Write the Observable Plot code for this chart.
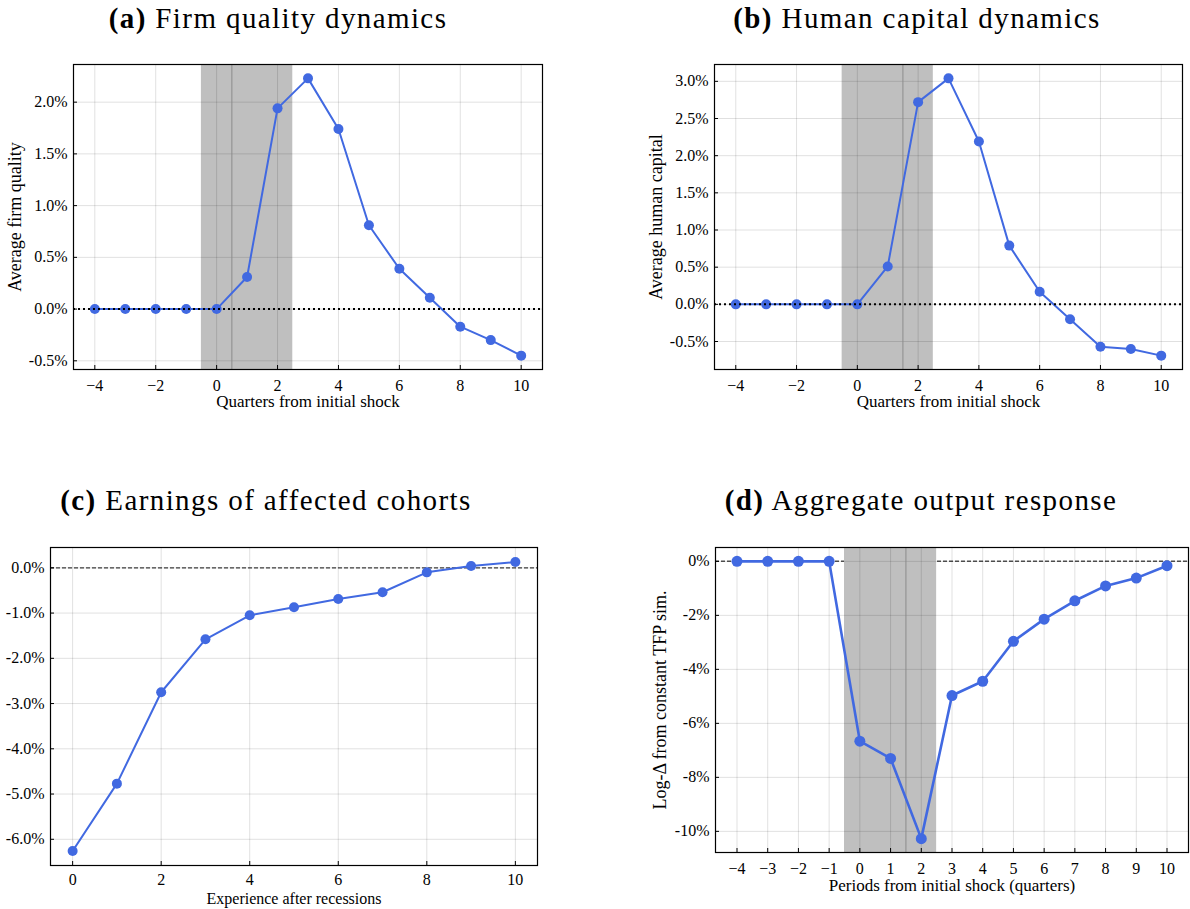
<!DOCTYPE html>
<html>
<head>
<meta charset="utf-8">
<script src="https://cdn.jsdelivr.net/npm/d3@7"></script>
<script src="https://cdn.jsdelivr.net/npm/@observablehq/plot@0.6"></script>
<style>
  html, body { margin: 0; padding: 0; background: #fff; }
  #page { position: relative; width: 1190px; height: 909px; overflow: hidden; background: #fff; }
  .title { position: absolute; width: 600px; text-align: center; font-family: "Liberation Serif", serif;
           font-size: 29px; line-height: 29px; letter-spacing: 1.4px; color: #000; white-space: nowrap; }
  .title b { font-weight: bold; }
  .panel { position: absolute; }
</style>
</head>
<body>
<div id="page"></div>
<script>
// ---------------- data ----------------
const quartersAB = [-4, -3, -2, -1, 0, 1, 2, 3, 4, 5, 6, 7, 8, 9, 10];
const firmQuality = [0, 0, 0, 0, 0, 0.31, 1.94, 2.23, 1.74, 0.81, 0.39, 0.11, -0.17, -0.30, -0.45];
const humanCapital = [0, 0, 0, 0, 0, 0.51, 2.72, 3.04, 2.19, 0.79, 0.17, -0.20, -0.57, -0.60, -0.69];
const experience = [0, 1, 2, 3, 4, 5, 6, 7, 8, 9, 10];
const cohortEarnings = [-6.26, -4.77, -2.75, -1.58, -1.05, -0.87, -0.69, -0.54, -0.10, 0.04, 0.13];
const periodsD = [-4, -3, -2, -1, 0, 1, 2, 3, 4, 5, 6, 7, 8, 9, 10];
const outputResponse = [0, 0, 0, 0, -6.66, -7.30, -10.27, -4.97, -4.44, -2.96, -2.14, -1.46, -0.91, -0.62, -0.16];

const recession = [{start: -0.5, end: 2.5}];
const markerA = [0.5];
const markerBD = [1.5];

const ticksXAB = [-4, -2, 0, 2, 4, 6, 8, 10];
const ticksYA = [-0.5, 0, 0.5, 1, 1.5, 2];
const ticksYB = [-0.5, 0, 0.5, 1, 1.5, 2, 2.5, 3];
const ticksXC = [0, 2, 4, 6, 8, 10];
const ticksYC = [-6, -5, -4, -3, -2, -1, 0];
const ticksXD = [-4, -3, -2, -1, 0, 1, 2, 3, 4, 5, 6, 7, 8, 9, 10];
const ticksYD = [-10, -8, -6, -4, -2, 0];

const titles = [
  ["(a)", "Firm quality dynamics"],
  ["(b)", "Human capital dynamics"],
  ["(c)", "Earnings of affected cohorts"],
  ["(d)", "Aggregate output response"]
];

// ---------------- helpers ----------------
const BLUE = "#4169E1";
const fmtX = d => d < 0 ? "\u2212" + (-d) : String(d);
const pct1 = d => (Math.abs(d) < 1e-9 ? 0 : d).toFixed(1) + "%";
const pct0 = d => (Math.abs(d) < 1e-9 ? 0 : d).toFixed(0) + "%";
function padDomain(vals, frac) {
  const lo = d3.min(vals), hi = d3.max(vals), p = (hi - lo) * frac;
  return [lo - p, hi + p];
}

const page = document.getElementById("page");

function addTitle(t, cx, top) {
  const div = document.createElement("div");
  div.className = "title";
  div.style.left = (cx - 300) + "px";
  div.style.top = top + "px";
  div.innerHTML = `<b>${t[0]}</b> ${t[1]}`;
  page.appendChild(div);
}

function panel(cfg) {
  const rows = cfg.xs.map((x, i) => ({x, y: cfg.ys[i]}));
  const W = cfg.width, H = cfg.height;
  const fw = W - cfg.ml - cfg.mr, fh = H - cfg.mt - cfg.mb;
  const marks = [];
  if (cfg.zeroBelow) marks.push(Plot.ruleY([0], {stroke: cfg.zeroColor, strokeWidth: cfg.zeroWidth, strokeDasharray: cfg.zeroDash}));
  if (cfg.shade) marks.push(Plot.rect(recession, {x1: "start", x2: "end", fill: "#bfbfbf"}));
  marks.push(Plot.gridX(cfg.xTicks, {stroke: "#000", strokeOpacity: 0.12, strokeWidth: 1}));
  marks.push(Plot.gridY(cfg.yTicks, {stroke: "#000", strokeOpacity: 0.12, strokeWidth: 1}));
  if (cfg.vline) marks.push(Plot.ruleX(cfg.vline, {stroke: "#8c8c8c", strokeWidth: 1}));
  marks.push(Plot.line(rows, {x: "x", y: "y", stroke: BLUE, strokeWidth: cfg.lw}));
  marks.push(Plot.dot(rows, {x: "x", y: "y", r: cfg.r, fill: BLUE, stroke: "none"}));
  if (!cfg.zeroBelow) marks.push(Plot.ruleY([0], {stroke: cfg.zeroColor, strokeWidth: cfg.zeroWidth, strokeDasharray: cfg.zeroDash}));
  marks.push(Plot.frame({stroke: "#000", strokeWidth: 1.2}));
  marks.push(Plot.tickX(cfg.xTicks, {x: d => d, insetTop: fh - 4, stroke: "#000", strokeWidth: 1}));
  marks.push(Plot.tickY(cfg.yTicks, {y: d => d, insetRight: fw - 4, stroke: "#000", strokeWidth: 1}));
  marks.push(Plot.axisX(cfg.xTicks, {tickSize: 0, tickPadding: cfg.xPad, tickFormat: fmtX, label: null, fontSize: 16}));
  marks.push(Plot.axisY(cfg.yTicks, {tickSize: 0, tickPadding: 6, tickFormat: cfg.yFmt, label: null, fontSize: 16}));
  marks.push(Plot.text([cfg.xLabel], {text: d => d, frameAnchor: "bottom", dy: cfg.xLabelDy, fontSize: cfg.xLabelSize, lineAnchor: "middle", textAnchor: "middle"}));
  if (cfg.yLabel) marks.push(Plot.text([cfg.yLabel], {text: d => d, frameAnchor: "left", dx: cfg.yLabelDx, rotate: -90, fontSize: 18, lineAnchor: "middle", textAnchor: "middle"}));

  const svg = Plot.plot({
    width: W, height: H,
    marginLeft: cfg.ml, marginRight: cfg.mr, marginTop: cfg.mt, marginBottom: cfg.mb,
    x: {domain: [d3.min(cfg.xs) - (d3.max(cfg.xs) - d3.min(cfg.xs)) * 0.05, d3.max(cfg.xs) + (d3.max(cfg.xs) - d3.min(cfg.xs)) * 0.05]},
    y: {domain: padDomain(cfg.ys, 0.05)},
    style: {fontFamily: "Liberation Serif, serif", fontSize: "16px", color: "#000", background: "transparent", overflow: "visible"},
    marks
  });
  const wrap = document.createElement("div");
  wrap.className = "panel";
  wrap.style.left = cfg.left + "px";
  wrap.style.top = cfg.top + "px";
  wrap.appendChild(svg);
  page.appendChild(wrap);
}

// ---------------- panels ----------------
panel({left: 0, top: 50, width: 595, height: 404, ml: 73, mr: 53, mt: 14, mb: 85,
  xs: quartersAB, ys: firmQuality, xTicks: ticksXAB, yTicks: ticksYA, yFmt: pct1,
  shade: true, vline: markerA, zeroBelow: false, zeroColor: "#000", zeroWidth: 2, zeroDash: "2,3",
  lw: 2, r: 5, xPad: 10, xLabel: "Quarters from initial shock", xLabelDy: 32, xLabelSize: 17,
  yLabel: "Average firm quality", yLabelDx: -58});

panel({left: 595, top: 50, width: 595, height: 404, ml: 119, mr: 8, mt: 14, mb: 85,
  xs: quartersAB, ys: humanCapital, xTicks: ticksXAB, yTicks: ticksYB, yFmt: pct1,
  shade: true, vline: markerBD, zeroBelow: false, zeroColor: "#000", zeroWidth: 2, zeroDash: "2,3",
  lw: 2, r: 5, xPad: 10, xLabel: "Quarters from initial shock", xLabelDy: 32, xLabelSize: 17,
  yLabel: "Average human capital", yLabelDx: -58});

panel({left: 0, top: 530, width: 595, height: 379, ml: 50, mr: 58, mt: 17, mb: 44,
  xs: experience, ys: cohortEarnings, xTicks: ticksXC, yTicks: ticksYC, yFmt: pct1,
  shade: false, vline: null, zeroBelow: true, zeroColor: "#444", zeroWidth: 1.2, zeroDash: "4,2",
  lw: 2, r: 5, xPad: 8, xLabel: "Experience after recessions", xLabelDy: 33, xLabelSize: 16, yLabel: null});

panel({left: 595, top: 530, width: 595, height: 379, ml: 120, mr: 2, mt: 17, mb: 57,
  xs: periodsD, ys: outputResponse, xTicks: ticksXD, yTicks: ticksYD, yFmt: pct0,
  shade: true, vline: markerBD, zeroBelow: true, zeroColor: "#555", zeroWidth: 1.5, zeroDash: "4,2",
  lw: 2.6, r: 5.5, xPad: 10, xLabel: "Periods from initial shock (quarters)", xLabelDy: 33, xLabelSize: 17,
  yLabel: "Log-\u0394 from constant TFP sim.", yLabelDx: -55});

addTitle(titles[0], 278, 4);
addTitle(titles[1], 917, 4);
addTitle(titles[2], 266, 486);
addTitle(titles[3], 921, 486);
</script>
</body>
</html>
